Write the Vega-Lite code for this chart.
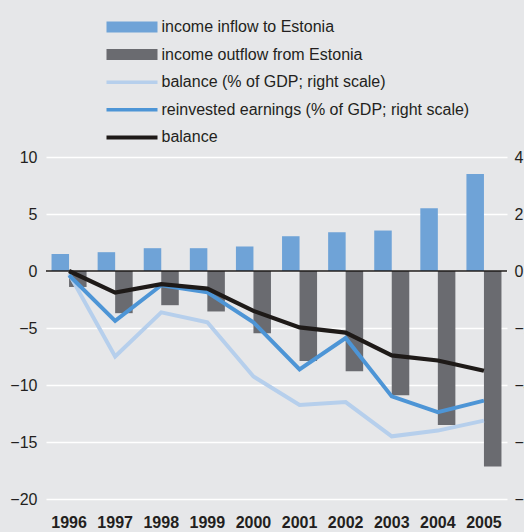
{
  "$schema": "https://vega.github.io/schema/vega-lite/v6.json",
  "width": 461,
  "height": 342,
  "autosize": {"type": "none"},
  "padding": {"left": 46, "top": 157, "right": 17, "bottom": 33},
  "background": "#e6e7e9",
  "data": {
    "values": [
      {"year": "1996", "series": "income inflow to Estonia", "value": 1.5},
      {"year": "1997", "series": "income inflow to Estonia", "value": 1.65},
      {"year": "1998", "series": "income inflow to Estonia", "value": 2.0},
      {"year": "1999", "series": "income inflow to Estonia", "value": 2.0},
      {"year": "2000", "series": "income inflow to Estonia", "value": 2.15},
      {"year": "2001", "series": "income inflow to Estonia", "value": 3.05},
      {"year": "2002", "series": "income inflow to Estonia", "value": 3.4},
      {"year": "2003", "series": "income inflow to Estonia", "value": 3.55},
      {"year": "2004", "series": "income inflow to Estonia", "value": 5.5},
      {"year": "2005", "series": "income inflow to Estonia", "value": 8.5},
      {"year": "1996", "series": "income outflow from Estonia", "value": -1.4},
      {"year": "1997", "series": "income outflow from Estonia", "value": -3.7},
      {"year": "1998", "series": "income outflow from Estonia", "value": -3.0},
      {"year": "1999", "series": "income outflow from Estonia", "value": -3.55},
      {"year": "2000", "series": "income outflow from Estonia", "value": -5.45},
      {"year": "2001", "series": "income outflow from Estonia", "value": -7.9},
      {"year": "2002", "series": "income outflow from Estonia", "value": -8.8},
      {"year": "2003", "series": "income outflow from Estonia", "value": -10.9},
      {"year": "2004", "series": "income outflow from Estonia", "value": -13.5},
      {"year": "2005", "series": "income outflow from Estonia", "value": -17.15},
      {"year": "1996", "series": "balance (% of GDP; right scale)", "value": -0.1},
      {"year": "1997", "series": "balance (% of GDP; right scale)", "value": -3.0},
      {"year": "1998", "series": "balance (% of GDP; right scale)", "value": -1.45},
      {"year": "1999", "series": "balance (% of GDP; right scale)", "value": -1.8},
      {"year": "2000", "series": "balance (% of GDP; right scale)", "value": -3.7},
      {"year": "2001", "series": "balance (% of GDP; right scale)", "value": -4.7},
      {"year": "2002", "series": "balance (% of GDP; right scale)", "value": -4.6},
      {"year": "2003", "series": "balance (% of GDP; right scale)", "value": -5.8},
      {"year": "2004", "series": "balance (% of GDP; right scale)", "value": -5.6},
      {"year": "2005", "series": "balance (% of GDP; right scale)", "value": -5.25},
      {"year": "1996", "series": "reinvested earnings (% of GDP; right scale)", "value": -0.15},
      {"year": "1997", "series": "reinvested earnings (% of GDP; right scale)", "value": -1.75},
      {"year": "1998", "series": "reinvested earnings (% of GDP; right scale)", "value": -0.5},
      {"year": "1999", "series": "reinvested earnings (% of GDP; right scale)", "value": -0.75},
      {"year": "2000", "series": "reinvested earnings (% of GDP; right scale)", "value": -1.8},
      {"year": "2001", "series": "reinvested earnings (% of GDP; right scale)", "value": -3.45},
      {"year": "2002", "series": "reinvested earnings (% of GDP; right scale)", "value": -2.35},
      {"year": "2003", "series": "reinvested earnings (% of GDP; right scale)", "value": -4.4},
      {"year": "2004", "series": "reinvested earnings (% of GDP; right scale)", "value": -4.95},
      {"year": "2005", "series": "reinvested earnings (% of GDP; right scale)", "value": -4.55},
      {"year": "1996", "series": "balance", "value": 0.0},
      {"year": "1997", "series": "balance", "value": -1.9},
      {"year": "1998", "series": "balance", "value": -1.15},
      {"year": "1999", "series": "balance", "value": -1.55},
      {"year": "2000", "series": "balance", "value": -3.5},
      {"year": "2001", "series": "balance", "value": -4.95},
      {"year": "2002", "series": "balance", "value": -5.4},
      {"year": "2003", "series": "balance", "value": -7.4},
      {"year": "2004", "series": "balance", "value": -7.85},
      {"year": "2005", "series": "balance", "value": -8.75}
    ]
  },
  "layer": [
    {
      "layer": [
        {
          "transform": [{"filter": "datum.series == 'income inflow to Estonia' || datum.series == 'income outflow from Estonia'"}],
          "mark": {"type": "bar"},
          "encoding": {
            "x": {
              "field": "year",
              "type": "ordinal",
              "scale": {"paddingInner": 0.24, "paddingOuter": 0.12},
              "axis": {"labelAngle": 0, "labelFontWeight": "bold", "labelPadding": 15, "grid": false}
            },
            "xOffset": {"field": "series", "type": "nominal", "scale": {"domain": ["income inflow to Estonia", "income outflow from Estonia"], "paddingInner": 0}},
            "y": {
              "field": "value",
              "type": "quantitative",
              "scale": {"domain": [-20, 10], "nice": false},
              "axis": {"orient": "left", "values": [-20, -15, -10, -5, 0, 5, 10], "grid": true, "gridColor": "#ffffff", "gridWidth": 1.6, "labelPadding": 9}
            },
            "color": {
              "field": "series",
              "type": "nominal",
              "title": null,
              "sort": null,
              "scale": {
                "domain": ["income inflow to Estonia", "income outflow from Estonia", "balance (% of GDP; right scale)", "reinvested earnings (% of GDP; right scale)", "balance"],
                "range": ["#6fa3d7", "#6a6b70", "#b6cfec", "#4d95d6", "#1e1a18"]
              }
            }
          }
        },
        {
          "transform": [{"filter": "datum.series == 'balance' && datum.year == '1996'"}],
          "mark": {"type": "rule", "color": "#1e1a18", "strokeWidth": 1.6},
          "encoding": {"y": {"datum": 0}}
        }
      ]
    },
    {
      "transform": [{"filter": "datum.series == 'balance (% of GDP; right scale)' || datum.series == 'reinvested earnings (% of GDP; right scale)'"}],
      "mark": {"type": "line", "strokeWidth": 4, "strokeJoin": "miter"},
      "encoding": {
        "x": {
          "field": "year",
          "type": "ordinal",
          "scale": {"paddingInner": 0.24, "paddingOuter": 0.12},
          "axis": {"labelAngle": 0, "labelFontWeight": "bold", "labelPadding": 15, "grid": false}
        },
        "y": {
          "field": "value",
          "type": "quantitative",
          "scale": {"domain": [-8, 4], "nice": false},
          "axis": {"orient": "right", "values": [-8, -6, -4, -2, 0, 2, 4], "grid": false, "labelPadding": 7}
        },
        "color": {
          "field": "series",
          "type": "nominal",
          "title": null,
          "sort": null,
          "scale": {
            "domain": ["income inflow to Estonia", "income outflow from Estonia", "balance (% of GDP; right scale)", "reinvested earnings (% of GDP; right scale)", "balance"],
            "range": ["#6fa3d7", "#6a6b70", "#b6cfec", "#4d95d6", "#1e1a18"]
          }
        }
      }
    },
    {
      "transform": [{"filter": "datum.series == 'balance'"}],
      "mark": {"type": "line", "strokeWidth": 4.2, "strokeJoin": "miter"},
      "encoding": {
        "x": {
          "field": "year",
          "type": "ordinal",
          "scale": {"paddingInner": 0.24, "paddingOuter": 0.12},
          "axis": {"labelAngle": 0, "labelFontWeight": "bold", "labelPadding": 15, "grid": false}
        },
        "y": {
          "field": "value",
          "type": "quantitative",
          "scale": {"domain": [-20, 10], "nice": false},
          "axis": null
        },
        "color": {
          "field": "series",
          "type": "nominal",
          "title": null,
          "sort": null,
          "scale": {
            "domain": ["income inflow to Estonia", "income outflow from Estonia", "balance (% of GDP; right scale)", "reinvested earnings (% of GDP; right scale)", "balance"],
            "range": ["#6fa3d7", "#6a6b70", "#b6cfec", "#4d95d6", "#1e1a18"]
          }
        }
      }
    },
    {
      "mark": {"type": "point", "filled": true, "opacity": 0},
      "encoding": {
        "color": {
          "field": "series",
          "type": "nominal",
          "title": null,
          "sort": null,
          "scale": {
            "domain": ["income inflow to Estonia", "income outflow from Estonia", "balance (% of GDP; right scale)", "reinvested earnings (% of GDP; right scale)", "balance"],
            "range": ["#6fa3d7", "#6a6b70", "#b6cfec", "#4d95d6", "#1e1a18"]
          }
        },
        "shape": {
          "field": "series",
          "type": "nominal",
          "title": null,
          "sort": null,
          "scale": {
            "domain": ["income inflow to Estonia", "income outflow from Estonia", "balance (% of GDP; right scale)", "reinvested earnings (% of GDP; right scale)", "balance"],
            "range": ["M-5.1,-1.1H5.1V1.1H-5.1Z", "M-5.1,-1.1H5.1V1.1H-5.1Z", "M-5.1,-0.36H5.1V0.36H-5.1Z", "M-5.1,-0.36H5.1V0.36H-5.1Z", "M-5.1,-0.4H5.1V0.4H-5.1Z"]
          }
        }
      }
    }
  ],
  "resolve": {"scale": {"y": "independent"}},
  "config": {
    "font": "Liberation Sans",
    "view": {"stroke": null},
    "axis": {
      "labelFont": "Liberation Sans",
      "labelFontSize": 16,
      "labelColor": "#231f20",
      "domain": false,
      "ticks": false,
      "tickSize": 0,
      "title": null
    },
    "legend": {
      "orient": "none",
      "legendX": 78,
      "legendY": -138,
      "padding": 0,
      "title": null,
      "labelFont": "Liberation Sans",
      "labelFontSize": 16,
      "labelColor": "#231f20",
      "labelOffset": 21.5,
      "symbolSize": 100,
      "symbolStrokeWidth": 0,
      "symbolOpacity": 1,
      "rowPadding": 11.6,
      "labelLimit": 400
    }
  }
}
